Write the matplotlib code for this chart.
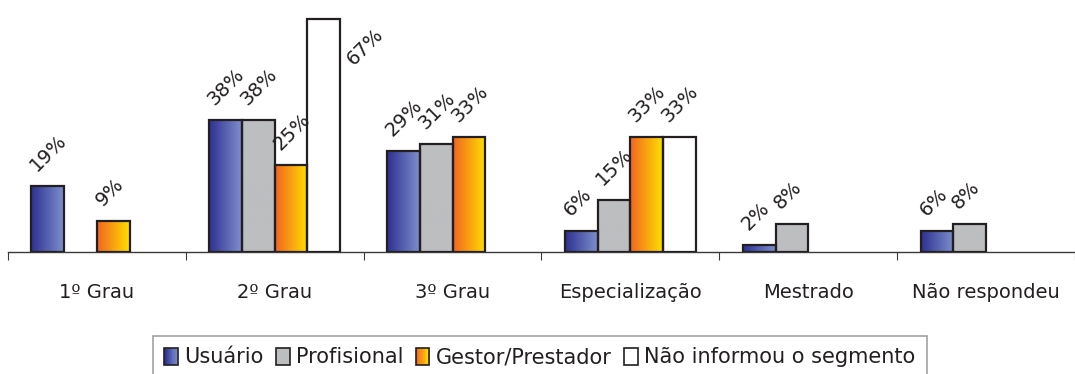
import numpy as np
import matplotlib.pyplot as plt
from matplotlib.colors import LinearSegmentedColormap
from matplotlib.patches import Rectangle
from matplotlib.legend_handler import HandlerBase

# data (percent); None = no bar for that segment
categories = ['1º Grau', '2º Grau', '3º Grau', 'Especialização', 'Mestrado', 'Não respondeu']
series_names = ['Usuário', 'Profisional', 'Gestor/Prestador', 'Não informou o segmento']
usuario = [19, 38, 29, 6, 2, 6]
profisional = [None, 38, 31, 15, 8, 8]
gestor = [9, 25, 33, 33, None, None]
nao_informou = [None, 67, None, 33, None, None]

# left/right colour of each gradient fill
fills = [('#2e3192', '#7d8fcc'),
         ('#bcbec0', '#bcbec0'),
         ('#f26522', '#ffe000'),
         ('#ffffff', '#ffffff')]
edge = '#231f20'

plt.rcParams['font.family'] = 'DejaVu Sans'

fig = plt.figure(figsize=(10.75, 3.74), dpi=100)
ax = fig.add_axes([8 / 1075, 122 / 374, 1 - 8 / 1075, 245 / 374])

width = 0.184
grad = np.linspace(0, 1, 64).reshape(1, -1)
x = np.arange(len(categories))

for s, vals in enumerate([usuario, profisional, gestor, nao_informou]):
    cmap = LinearSegmentedColormap.from_list('g%d' % s, fills[s])
    for i, v in enumerate(vals):
        if v is None:
            continue
        x0 = x[i] + (s - 2) * width
        ax.imshow(grad, cmap=cmap, aspect='auto', extent=[x0, x0 + width, 0, v],
                  zorder=2, interpolation='bilinear')
        ax.bar(x0, v, width=width, align='edge', facecolor='none',
               edgecolor=edge, linewidth=1.6, zorder=3)
        if v > 60:
            # tallest label sits beside the bar
            ax.annotate(f'{v}%', (x0 + width, v), xytext=(12, -36), textcoords='offset points',
                        rotation=45, rotation_mode='anchor', ha='left', va='bottom',
                        fontsize=14, color='#231f20')
        else:
            ax.annotate(f'{v}%', (x0, v), xytext=(6, 8), textcoords='offset points',
                        rotation=45, rotation_mode='anchor', ha='left', va='bottom',
                        fontsize=14, color='#231f20')

ax.set_xlim(-0.5, 5.41)
ax.set_ylim(0, 70.5)

for side in ['top', 'right', 'left']:
    ax.spines[side].set_visible(False)
ax.spines['bottom'].set_color('#3a3a3a')
ax.spines['bottom'].set_linewidth(1.0)
ax.set_yticks([])
ax.set_xticks(np.arange(-0.5, 6, 1.0))
ax.set_xticklabels([])
ax.tick_params(axis='x', which='major', length=6, color='#3a3a3a', direction='out')
ax.set_xticks(x, minor=True)
ax.set_xticklabels(categories, minor=True, fontsize=14, color='#231f20')
ax.tick_params(axis='x', which='minor', length=0, pad=22)


class GradientHandler(HandlerBase):
    def __init__(self, c0, c1):
        super().__init__()
        self.c0, self.c1 = c0, c1

    def create_artists(self, legend, orig_handle, xdescent, ydescent, width, height, fontsize, trans):
        cmap = LinearSegmentedColormap.from_list('h', [self.c0, self.c1])
        arts = []
        n = 12
        for k in range(n):
            r = Rectangle((-xdescent + width * k / n, -ydescent), width / n + 0.3, height,
                          facecolor=cmap(k / (n - 1)), edgecolor='none', transform=trans)
            arts.append(r)
        arts.append(Rectangle((-xdescent, -ydescent), width, height, facecolor='none',
                              edgecolor=edge, linewidth=1.2, transform=trans))
        return arts


handles = [Rectangle((0, 0), 1, 1) for _ in series_names]
handler_map = {h: GradientHandler(*fills[i]) for i, h in enumerate(handles)}
leg = fig.legend(handles, series_names, handler_map=handler_map, ncol=4,
                 loc='upper left', bbox_to_anchor=(153 / 1075, 1 - 336 / 374),
                 fontsize=15, frameon=True, fancybox=False, handlelength=0.65,
                 handleheight=0.9, handletextpad=0.3, columnspacing=0.6,
                 borderpad=0.55, borderaxespad=0)
leg.get_frame().set_edgecolor('#8a8a8a')
leg.get_frame().set_linewidth(1.2)
for t in leg.get_texts():
    t.set_color('#231f20')

fig.savefig('out.png', dpi=100)
